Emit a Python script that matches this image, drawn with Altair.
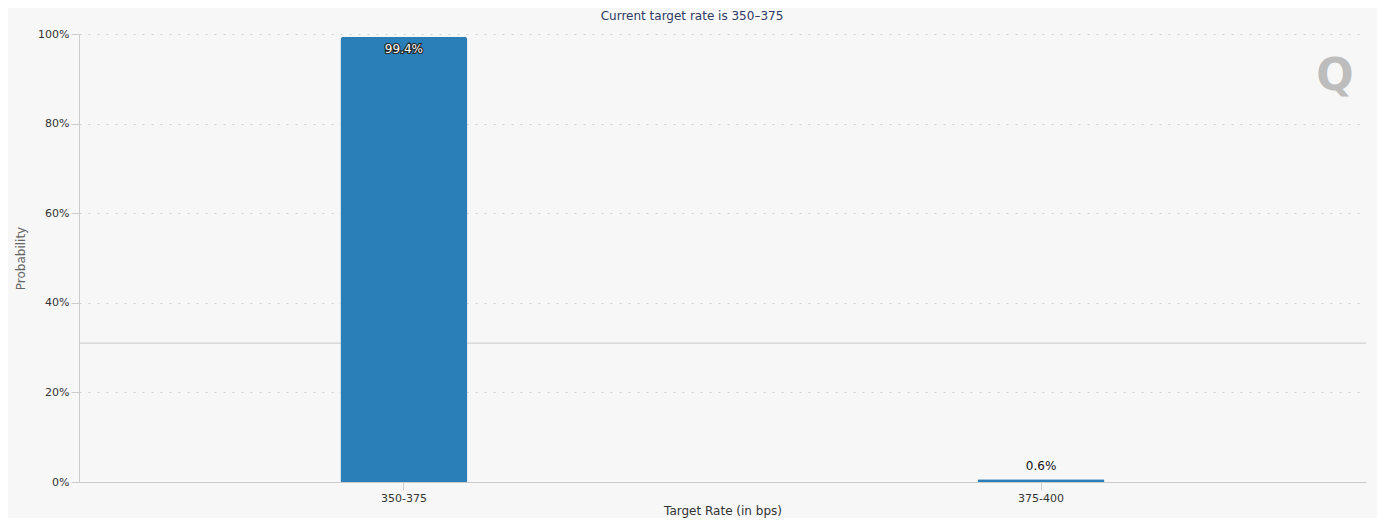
import altair as alt
import pandas as pd

rates = ["350-375", "375-400"]
probs = [0.994, 0.006]
labels = ["99.4%", "0.6%"]
ref_line = [0.31]

df = pd.DataFrame({"rate": rates, "prob": probs, "label": labels})
FONT = "DejaVu Sans"

xenc = alt.X("rate:N", sort=rates, title="Target Rate (in bps)",
             scale=alt.Scale(paddingInner=0, paddingOuter=0.01),
             axis=alt.Axis(labelAngle=0, labelFontSize=11, labelColor="#333",
                           labelFont=FONT, titleFont=FONT, titleFontSize=12,
                           titleColor="#333", titleFontWeight="normal",
                           domainColor="#ccc", tickColor="#ccc", tickSize=8,
                           labelPadding=2, titlePadding=2))
yscale = alt.Scale(domain=[0, 1])
yenc = alt.Y("prob:Q", scale=yscale, title="Probability",
             axis=alt.Axis(format="%", values=[0, 0.2, 0.4, 0.6, 0.8, 1.0],
                           labelFontSize=11, labelColor="#333", labelFont=FONT,
                           titleFont=FONT, titleFontSize=12, titleColor="#666",
                           titleFontWeight="normal", domainColor="#ccc",
                           tickColor="#ccc", tickSize=8, gridColor="#d0d0d0",
                           gridDash=[2, 7], titlePadding=10))

base = alt.Chart(df)
bars = base.mark_bar(color="#2a7fb8", size=127, cornerRadiusTopLeft=3,
                     cornerRadiusTopRight=3).encode(x=xenc, y=yenc)

rule = alt.Chart(pd.DataFrame({"v": ref_line})).mark_rule(
    color="#c8c8c8", strokeWidth=1).encode(y=alt.Y("v:Q", scale=yscale))

df_in = df[df["prob"] > 0.5]
df_out = df[df["prob"] <= 0.5]
lab_in_stroke = alt.Chart(df_in).mark_text(
    font=FONT, fontSize=12, baseline="top", dy=7, color="#000",
    stroke="#222", strokeWidth=2.2).encode(x="rate:N", y=alt.Y("prob:Q", scale=yscale), text="label:N")
lab_in = alt.Chart(df_in).mark_text(
    font=FONT, fontSize=12, baseline="top", dy=7, color="#fff").encode(
    x="rate:N", y=alt.Y("prob:Q", scale=yscale), text="label:N")
lab_out = alt.Chart(df_out).mark_text(
    font=FONT, fontSize=12, baseline="bottom", dy=-6, color="#111").encode(
    x="rate:N", y=alt.Y("prob:Q", scale=yscale), text="label:N")

subtitle = alt.Chart(pd.DataFrame({"t": ["Current target rate is 350\u2013375"]})).mark_text(
    font=FONT, fontSize=12, color="#2f3b66", align="center", baseline="middle").encode(
    x=alt.value(613), y=alt.value(-18), text="t:N")

logo = alt.Chart(pd.DataFrame({"t": ["Q"]})).mark_text(
    font=FONT, fontSize=44, fontWeight="bold", color="#bdbdbd", align="center",
    baseline="middle").encode(x=alt.value(1256), y=alt.value(43), text="t:N")

chart = alt.layer(rule, bars, lab_in_stroke, lab_in, lab_out, subtitle, logo).properties(
    width=1287, height=448,
    autosize=alt.AutoSizeParams(type="none"),
    padding={"left": 71, "top": 26, "right": 11, "bottom": 36},
    background="#f7f7f7",
).configure_view(stroke=None)

chart.save("out.html", embed_options={"renderer": "svg", "actions": False})
